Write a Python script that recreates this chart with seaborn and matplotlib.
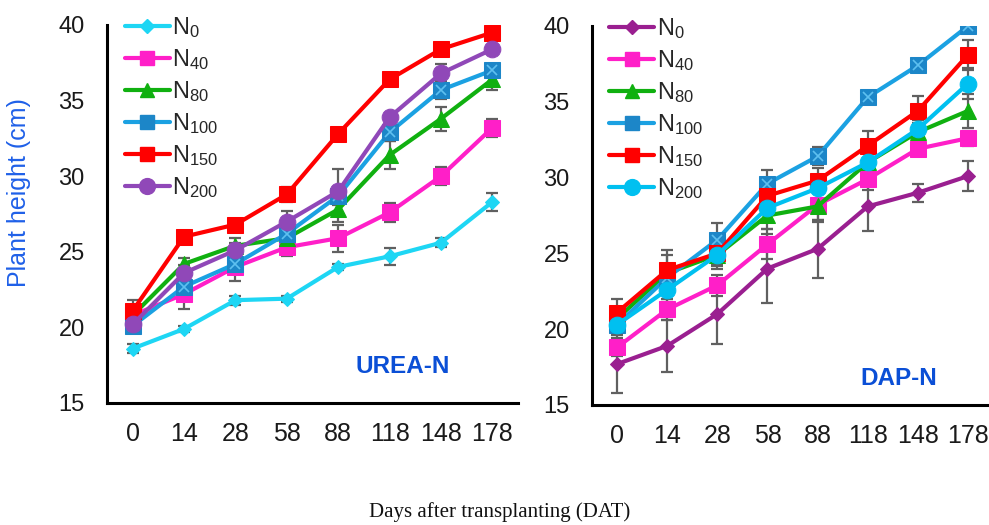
import numpy as np
import pandas as pd
import matplotlib
matplotlib.use("Agg")
import matplotlib.pyplot as plt
import seaborn as sns

sns.set_style("white")
plt.rcParams['font.family'] = ['Liberation Sans', 'DejaVu Sans']
plt.rcParams['mathtext.default'] = 'regular'

days = ["0", "14", "28", "58", "88", "118", "148", "178"]
series = ["N0", "N40", "N80", "N100", "N150", "N200"]
labels = [r"N$_{0}$", r"N$_{40}$", r"N$_{80}$", r"N$_{100}$", r"N$_{150}$", r"N$_{200}$"]

# UREA-N
urea_N0 = [18.6, 19.9, 21.8, 21.9, 24.0, 24.7, 25.6, 28.3]
urea_N40 = [20.8, 22.2, 24.0, 25.3, 25.9, 27.6, 30.0, 33.2]
urea_N80 = [20.8, 24.2, 25.4, 25.9, 27.8, 31.4, 33.8, 36.4]
urea_N100 = [20.1, 22.7, 24.2, 26.2, 28.7, 32.9, 35.7, 37.0]
urea_N150 = [21.1, 26.0, 26.8, 28.8, 32.8, 36.4, 38.4, 39.5]
urea_N200 = [20.2, 23.6, 25.1, 27.0, 29.0, 33.9, 36.8, 38.4]

urea_N0_err = [0.3, 0.2, 0.3, 0.2, 0.2, 0.55, 0.3, 0.6]
urea_N40_err = [0.6, 1.0, 0.9, 0.6, 0.9, 0.6, 0.6, 0.6]
urea_N80_err = [0.5, 0.4, 0.5, 0.3, 0.8, 0.9, 0.8, 0.7]
urea_N100_err = [0.5, 0.5, 0.4, 0.4, 0.6, 0.6, 0.6, 0.3]
urea_N150_err = [0.7, 0.2, 0.2, 0.5, 0.4, 0.2, 0.3, 0.3]
urea_N200_err = [0.6, 0.5, 0.5, 0.7, 1.5, 0.3, 0.6, 0.2]

# DAP-N
dap_N0 = [17.7, 18.9, 21.0, 24.0, 25.3, 28.1, 29.0, 30.1]
dap_N40 = [18.8, 21.3, 22.9, 25.6, 28.2, 29.9, 31.9, 32.6]
dap_N80 = [20.7, 23.7, 24.9, 27.5, 28.1, 31.0, 33.0, 34.4]
dap_N100 = [20.3, 23.4, 25.9, 29.6, 31.4, 35.3, 37.4, 40.0]
dap_N150 = [21.1, 23.9, 25.0, 28.8, 29.8, 32.1, 34.4, 38.1]
dap_N200 = [20.3, 22.6, 24.9, 28.0, 29.3, 31.0, 33.2, 36.2]

dap_N0_err = [1.9, 1.7, 2.0, 2.3, 1.9, 1.6, 0.6, 1.0]
dap_N40_err = [0.6, 0.7, 0.7, 1.0, 1.0, 0.7, 0.5, 0.5]
dap_N80_err = [0.6, 1.2, 0.9, 0.9, 1.0, 0.6, 0.6, 1.1]
dap_N100_err = [0.5, 0.5, 1.1, 0.9, 0.6, 0.3, 0.3, 0.2]
dap_N150_err = [0.9, 1.3, 0.7, 1.0, 0.8, 1.0, 0.95, 1.0]
dap_N200_err = [0.6, 0.8, 0.7, 0.8, 0.9, 0.6, 0.6, 1.0]

urea = [urea_N0, urea_N40, urea_N80, urea_N100, urea_N150, urea_N200]
urea_err = [urea_N0_err, urea_N40_err, urea_N80_err, urea_N100_err, urea_N150_err, urea_N200_err]
dap = [dap_N0, dap_N40, dap_N80, dap_N100, dap_N150, dap_N200]
dap_err = [dap_N0_err, dap_N40_err, dap_N80_err, dap_N100_err, dap_N150_err, dap_N200_err]

urea_colors = ["#1ED6F4", "#FF1FC8", "#10B010", "#1BA1E2", "#FF0000", "#9048B8"]
dap_colors = ["#9A1F90", "#FF1FC8", "#10B010", "#1BA1E2", "#FF0000", "#00C0F0"]
markers = ["D", "s", "^", "s", "s", "o"]
msizes = [7, 11, 11, 11, 11, 12]


def make_df(vals, errs):
    rows = []
    for s, v, e in zip(series, vals, errs):
        for i, d in enumerate(days):
            rows.append({"series": s, "day": d, "pos": i, "value": v[i], "err": e[i]})
    return pd.DataFrame(rows)


fig = plt.figure(figsize=(9.89, 5.25), dpi=100)
ax1 = fig.add_axes([0.1082, 0.2324, 0.4156, 0.72])
ax2 = fig.add_axes([0.5986, 0.2286, 0.4055, 0.7219])


def draw(ax, vals, errs, colors, title, tx, ty):
    df = make_df(vals, errs)
    for k, s in enumerate(series):
        sub = df[df["series"] == s]
        ax.errorbar(sub["pos"], sub["value"], yerr=sub["err"], fmt="none",
                    ecolor="#606060", elinewidth=1.6, capsize=4, capthick=1.6, zorder=2 + k * 0.1)
    handles = []
    for k, s in enumerate(series):
        sub = df[df["series"] == s]
        sns.lineplot(data=sub, x="pos", y="value", ax=ax, color=colors[k],
                     linewidth=3, marker=markers[k], markersize=msizes[k],
                     markeredgecolor=colors[k] if k != 3 else "#1C86C8",
                     markerfacecolor=colors[k] if k != 3 else "#1C86C8",
                     legend=False, zorder=3 + k * 0.1, errorbar=None)
        if k == 3:
            ax.plot(sub["pos"], sub["value"], linestyle="none", marker="x",
                    markersize=7, color="#5EC0F0", markeredgewidth=1.2, zorder=3.35)
        h, = ax.plot([], [], color=colors[k], linewidth=3, marker=markers[k],
                     markersize=msizes[k] * 0.95,
                     markerfacecolor=colors[k] if k != 3 else "#1C86C8",
                     markeredgecolor=colors[k] if k != 3 else "#1C86C8")
        handles.append(h)
    ax.legend(handles, labels, loc="upper left", bbox_to_anchor=(0.02, 1.05),
              frameon=False, fontsize=17, handlelength=1.9, handletextpad=0.1,
              labelspacing=0.3, borderaxespad=0)
    ax.set_xlim(-0.5, 7.5)
    ax.set_ylim(15, 40)
    ax.set_yticks([15, 20, 25, 30, 35, 40])
    ax.set_xticks(np.arange(-0.5, 8.0, 1.0))
    ax.set_xticklabels([])
    ax.set_xticks(np.arange(8), minor=True)
    ax.set_xticklabels(days, minor=True)
    ax.tick_params(axis="x", which="major", direction="out", length=8, width=2, color="black")
    ax.tick_params(axis="x", which="minor", length=0, labelsize=18, pad=14, colors="#1a1a1a")
    ax.tick_params(axis="y", direction="out", length=7, width=2, labelsize=17, colors="#1a1a1a", pad=9)
    ax.tick_params(axis="y", color="black")
    for sp in ["top", "right"]:
        ax.spines[sp].set_visible(False)
    for sp in ["left", "bottom"]:
        ax.spines[sp].set_linewidth(2.2)
        ax.spines[sp].set_color("black")
    ax.set_xlabel("")
    ax.set_ylabel("")
    ax.text(tx, ty, title, transform=ax.transAxes, color="#0B4FD6",
            fontsize=17.5, fontweight="bold", ha="center", va="center")


draw(ax1, urea, urea_err, urea_colors, "UREA-N", 0.72, 0.097)
draw(ax2, dap, dap_err, dap_colors, "DAP-N", 0.765, 0.07)

fig.text(0.019, 0.634, "Plant height (cm)", rotation=90, color="#1F60E8",
         fontsize=18, ha="center", va="center")
fig.text(0.5056, 0.025, "Days after transplanting (DAT)", family=["Liberation Serif"],
         fontsize=15, ha="center", va="center", color="#111111")

fig.savefig("out.png", dpi=100)
